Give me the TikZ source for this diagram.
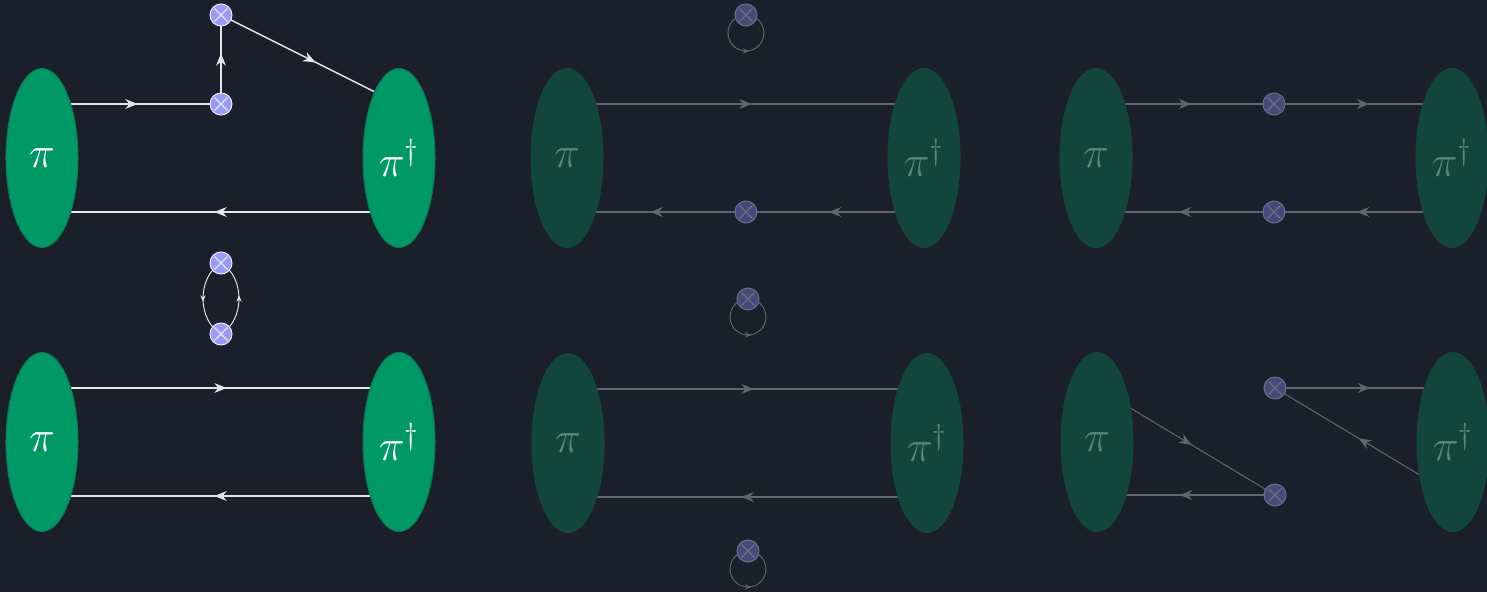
\documentclass[tikz,border=0pt]{standalone}
\usepackage{amsmath,amssymb}
\usepackage{xcolor}
\usepackage{tikz}
\usetikzlibrary{positioning,arrows.meta,calc,shapes.geometric,decorations.markings}
\definecolor{bgc}{HTML}{1B1F2B}
\definecolor{blob}{HTML}{009966}
\definecolor{blobdk}{HTML}{0B7A52}
\definecolor{blobdim}{HTML}{12463B}
\definecolor{inkdim}{HTML}{5A8878}
\definecolor{lineW}{HTML}{E6E6EA}
\definecolor{lineD}{HTML}{61656F}
\definecolor{vtx}{HTML}{9A9AFA}
\definecolor{vtxrim}{HTML}{E8E8F6}
\definecolor{vtxdim}{HTML}{474A76}
\definecolor{vtxrimdim}{HTML}{6A6E8C}
\pgfdeclarelayer{back}
\pgfdeclarelayer{wires}
\pgfsetlayers{back,wires,main}

\tikzset{
  hadron/.style={ellipse,minimum width=1.44cm,minimum height=3.58cm,inner sep=0pt,
    fill=blob,draw=blobdk,line width=0.6pt,text=white,font=\fontsize{27}{32}\selectfont},
  hadrondim/.style={hadron,fill=blobdim,draw=blobdim,text=inkdim},
  insert/.style 2 args={circle,minimum size=0.44cm,inner sep=0pt,fill=#1,draw=#2,line width=0.6pt,
    path picture={\draw[#2,line width=0.7pt]
      ([shift={(-0.13cm,-0.13cm)}]path picture bounding box.center) -- ++(0.26cm,0.26cm)
      ([shift={(-0.13cm,0.13cm)}]path picture bounding box.center) -- ++(0.26cm,-0.26cm);}},
  ins/.style={insert={vtx}{vtxrim}},
  insdim/.style={insert={vtxdim}{vtxrimdim}},
  prop/.style 2 args={draw=#1,line width=#2,postaction={decorate},
    decoration={markings,mark=at position 0.5 with
      {\arrow[xshift=3.5pt]{Stealth[length=7pt,width=5.6pt,color=#1]}}}},
  smallprop/.style={draw=#1,line width=0.55pt,postaction={decorate},
    decoration={markings,mark=at position 0.5 with
      {\arrow[xshift=1.75pt]{Stealth[length=3.5pt,width=3pt,color=#1]}}}},
  fwire/.style={prop={lineW}{0.85pt}},
  fwiredim/.style={prop={lineD}{0.6pt}},
}

\begin{document}
\begin{tikzpicture}[x=0.02cm,y=-0.02cm]
  \useasboundingbox (0,0) rectangle (1487,592);
  \begin{pgfonlayer}{back}
    \fill[bgc] (0,0) rectangle (1487,592);
  \end{pgfonlayer}

  % top left
  \node[hadron] (a1) at (42,158) {$\pi$};
  \node[hadron] (a2) at (399,158) {$\pi^\dagger$};
  \node[ins] (a3) at (221,104) {};
  \node[ins] (a4) at (221,15) {};
  % bottom left
  \node[hadron] (b1) at (42,442) {$\pi$};
  \node[hadron] (b2) at (399,442) {$\pi^\dagger$};
  \node[ins] (b3) at (221,263) {};
  \node[ins] (b4) at (221,334) {};
  % top middle
  \node[hadrondim] (c1) at (567,158) {$\pi$};
  \node[hadrondim] (c2) at (924,158) {$\pi^\dagger$};
  \node[insdim] (c3) at (746,15) {};
  \node[insdim] (c4) at (746,212) {};
  % bottom middle
  \node[hadrondim] (d1) at (568,443) {$\pi$};
  \node[hadrondim] (d2) at (927,443) {$\pi^\dagger$};
  \node[insdim] (d3) at (748,299) {};
  \node[insdim] (d4) at (748,551) {};
  % top right
  \node[hadrondim] (e1) at (1096,158) {$\pi$};
  \node[hadrondim] (e2) at (1452,158) {$\pi^\dagger$};
  \node[insdim] (e3) at (1274,104) {};
  \node[insdim] (e4) at (1274,212) {};
  % bottom right
  \node[hadrondim] (f1) at (1097,442) {$\pi$};
  \node[hadrondim] (f2) at (1453,442) {$\pi^\dagger$};
  \node[insdim] (f3) at (1275,388) {};
  \node[insdim] (f4) at (1275,495) {};

  \begin{pgfonlayer}{wires}
    \draw[fwire] (a1.center |- a3.center) -- (a3.center);
    \draw[fwire] (a3.center) -- (a4.center);
    \draw[fwire] (a4.center) -- (a2.center |- a3.center);
    \draw[fwire] ($(a2.center)+(0,54)$) -- ($(a1.center)+(0,54)$);

    \draw[fwire] ($(b1.center)+(0,-54)$) -- ($(b2.center)+(0,-54)$);
    \draw[fwire] ($(b2.center)+(0,54)$) -- ($(b1.center)+(0,54)$);
    \draw[smallprop=lineW] (b3.center) to[bend right=60] (b4.center);
    \draw[smallprop=lineW] (b4.center) to[bend right=60] (b3.center);

    \draw[fwiredim] ($(c1.center)+(0,-54)$) -- ($(c2.center)+(0,-54)$);
    \draw[fwiredim] (c2.center |- c4.center) -- (c4.center);
    \draw[fwiredim] (c4.center) -- (c1.center |- c4.center);
    \draw[smallprop=lineD] (c3.center) arc[start angle=90,end angle=450,radius=0.36cm];

    \draw[fwiredim] ($(d1.center)+(0,-54)$) -- ($(d2.center)+(0,-54)$);
    \draw[fwiredim] ($(d2.center)+(0,54)$) -- ($(d1.center)+(0,54)$);
    \draw[smallprop=lineD] (d3.center) arc[start angle=90,end angle=450,radius=0.36cm];
    \draw[smallprop=lineD] (d4.center) arc[start angle=90,end angle=450,radius=0.36cm];

    \draw[fwiredim] (e1.center |- e3.center) -- (e3.center);
    \draw[fwiredim] (e3.center) -- (e2.center |- e3.center);
    \draw[fwiredim] (e2.center |- e4.center) -- (e4.center);
    \draw[fwiredim] (e4.center) -- (e1.center |- e4.center);

    \draw[fwiredim] (f1.center |- f3.center) -- (f4.center);
    \draw[fwiredim] (f4.center) -- (f1.center |- f4.center);
    \draw[fwiredim] (f3.center) -- (f2.center |- f3.center);
    \draw[fwiredim] (f2.center |- f4.center) -- (f3.center);
  \end{pgfonlayer}
\end{tikzpicture}
\end{document}
